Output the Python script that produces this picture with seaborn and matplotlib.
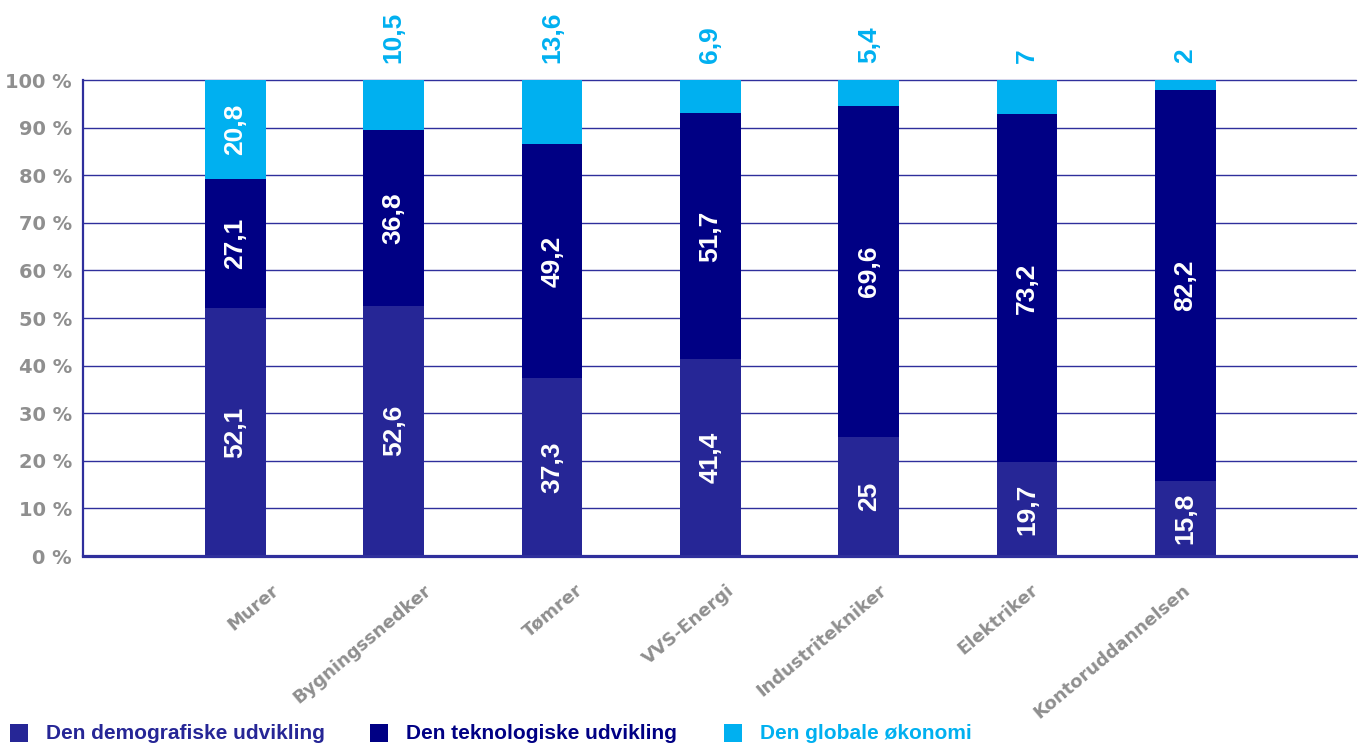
import matplotlib
matplotlib.use("Agg")
import matplotlib.pyplot as plt
import matplotlib.transforms as mtransforms
from matplotlib.patches import Rectangle
import numpy as np
import pandas as pd
import seaborn as sns

# Data: share (%) of each driver per education
categories = ["Murer", "Bygningssnedker", "Tømrer", "VVS-Energi",
              "Industritekniker", "Elektriker", "Kontoruddannelsen"]
demografi = [52.1, 52.6, 37.3, 41.4, 25, 19.7, 15.8]
teknologi = [27.1, 36.8, 49.2, 51.7, 69.6, 73.2, 82.2]
global_oekonomi = [20.8, 10.5, 13.6, 6.9, 5.4, 7, 2]
series_names = ["Den demografiske udvikling",
                "Den teknologiske udvikling",
                "Den globale økonomi"]
y_ticks = [0, 10, 20, 30, 40, 50, 60, 70, 80, 90, 100]

colors = ["#262696", "#000084", "#00b0f0"]
grid_color = "#2f2f9c"
gray = "#8f8f8f"
W, H = 1358, 745

sns.set_theme(style="white")
plt.rcParams["font.family"] = ["DejaVu Sans"]

fig = plt.figure(figsize=(W / 100, H / 100), dpi=100)
ax = fig.add_axes([83 / W, 1 - 556 / H, (1356 - 83) / W, (556 - 80) / H])

df = pd.DataFrame({
    "kategori": categories,
    series_names[0]: demografi,
    series_names[1]: teknologi,
    series_names[2]: global_oekonomi,
})

bottom = np.zeros(len(categories))
label_font = dict(family=["Liberation Sans", "DejaVu Sans"], fontsize=19,
                  fontweight="bold", rotation=90, ha="center")
for i, (name, col) in enumerate(zip(series_names, colors)):
    vals = df[name].to_numpy(dtype=float)
    sns.barplot(data=df, x="kategori", y=name, order=categories,
                bottom=bottom.copy(), color=col, saturation=1,
                width=0.383, errorbar=None, ax=ax, zorder=2,
                linewidth=0, edgecolor=col)
    for j, v in enumerate(vals):
        txt = f"{v:g}".replace(".", ",")
        is_top = i == len(series_names) - 1
        if is_top and v < 15:
            # small top segments get their value printed above the bar
            ax.text(j, 103.6, txt, color=col, va="bottom",
                    clip_on=False, **label_font)
        else:
            ax.text(j, bottom[j] + v / 2, txt, color="white", va="center",
                    zorder=4, **label_font)
    bottom += vals

ax.set_xlim(-0.963, 7.077)
ax.set_ylim(0, 100)
ax.set_xlabel("")
ax.set_ylabel("")

# Grid and spines
ax.set_axisbelow(True)
ax.yaxis.grid(True, color=grid_color, linewidth=1.0)
ax.xaxis.grid(False)
for gl in ax.get_ygridlines():
    gl.set_clip_on(False)
for side in ["top", "right"]:
    ax.spines[side].set_visible(False)
ax.spines["left"].set_color(grid_color)
ax.spines["left"].set_linewidth(1.6)
ax.spines["bottom"].set_color(grid_color)
ax.spines["bottom"].set_linewidth(2.3)
ax.spines["bottom"].set_zorder(5)

# Y ticks
ax.set_yticks(y_ticks)
ax.set_yticklabels([f"{t} %" for t in y_ticks])
ax.tick_params(axis="y", length=0, pad=8, labelsize=14, labelcolor=gray)
for lbl in ax.get_yticklabels():
    lbl.set_fontweight("bold")

# X ticks: rotated labels, spaced slightly tighter than the bars
ax.set_xticks(range(len(categories)))
ax.set_xticklabels(categories, rotation=40, ha="right", va="top",
                   rotation_mode="anchor", fontsize=13, fontweight="bold",
                   color=gray)
ax.tick_params(axis="x", length=0, pad=0)
n = len(categories)
for k, lbl in enumerate(ax.get_xticklabels()):
    dx = 0.16 + ((n - 1) / 2 - k) * 0.065
    shift = mtransforms.ScaledTranslation(dx, -0.25, fig.dpi_scale_trans)
    lbl.set_transform(lbl.get_transform() + shift)

# Legend along the bottom edge
legend_x = [(10, 46), (370, 406), (724, 760)]
for (sq_x, tx_x), name, col in zip(legend_x, series_names, colors):
    fig.add_artist(Rectangle((sq_x / W, 1 - 742 / H), 18 / W, 18 / H,
                             transform=fig.transFigure, color=col, lw=0))
    fig.text(tx_x / W, 1 - 739 / H, name, color=col, fontsize=15,
             fontweight="bold", family=["Liberation Sans", "DejaVu Sans"],
             va="baseline", ha="left")

fig.savefig("out.png", dpi=100)
